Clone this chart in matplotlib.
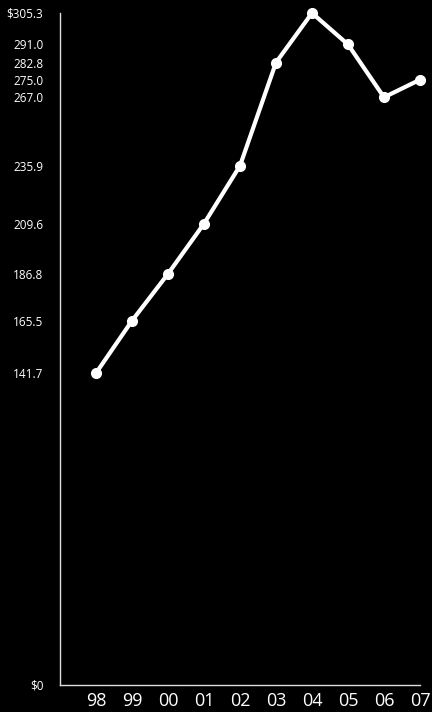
import matplotlib.pyplot as plt

years = ['98', '99', '00', '01', '02', '03', '04', '05', '06', '07']
values = [141.7, 165.5, 186.8, 209.6, 235.9, 282.8, 305.3, 291.0, 267.0, 275.0]
ytick_labels = ['$0', '141.7', '165.5', '186.8', '209.6', '235.9',
                '267.0', '275.0', '282.8', '291.0', '$305.3']

plt.rcParams['font.family'] = ['Open Sans', 'DejaVu Sans']

fig = plt.figure(figsize=(4.32, 7.12), dpi=100, facecolor='black')
ax = fig.add_axes([60 / 432, 1 - 685 / 712, 360 / 432, 672 / 712])
ax.set_facecolor('black')

x = list(range(len(years)))
ax.plot(x, values, color='white', lw=3, marker='o', ms=7, clip_on=False,
        solid_capstyle='round')

ax.set_xlim(-1, len(years) - 1)
ax.set_ylim(0, max(values))

ax.set_xticks(x)
ax.set_xticklabels(years, fontsize=13, color='white')
yt = [0] + sorted(values)
ax.set_yticks(yt)
ax.set_yticklabels(ytick_labels, fontsize=8.5, color='white')
ax.tick_params(axis='both', length=0)
ax.tick_params(axis='y', pad=12)
ax.tick_params(axis='x', pad=5)

for s in ['top', 'right']:
    ax.spines[s].set_visible(False)
for s in ['left', 'bottom']:
    ax.spines[s].set_color('#dddddd')
    ax.spines[s].set_linewidth(1)

plt.savefig('out.png', dpi=100, facecolor='black')
